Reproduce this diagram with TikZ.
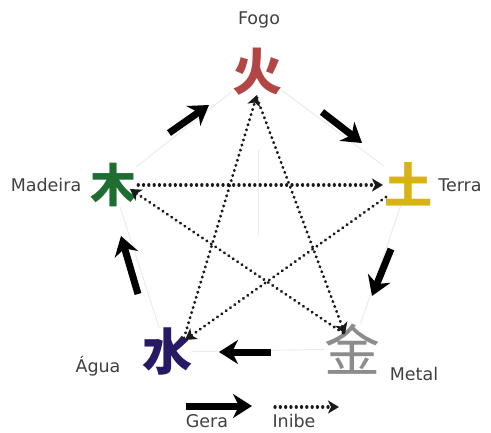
\documentclass[tikz,border=0pt]{standalone}
\usepackage{fontspec}
\setmainfont{DejaVu Sans}
\newfontfamily\cjkfont{Noto Sans CJK SC}
\usetikzlibrary{arrows.meta}
\tikzset{
  lbl/.style={font=\fontsize{17.5}{19}\selectfont, text=black!75, inner sep=0pt},
  elem/.style={font=\cjkfont\bfseries, inner sep=0pt},
  gen/.style={line width=7pt, -{Stealth[length=19pt,width=24pt,inset=6pt]}},
  inh/.style={line width=3.2pt, dash pattern=on 0.1pt off 5.2pt, line cap=round, black!90, -{Stealth[length=11pt,width=13pt,inset=3pt,line cap=butt]}},
  faint/.style={black!8, line width=1pt}
}
\begin{document}
\begin{tikzpicture}[x=1pt,y=-1pt]
\useasboundingbox (0,0) rectangle (491,432);
% element characters
\node[elem, text={rgb,255:red,178;green,70;blue,68}, font=\cjkfont\bfseries\fontsize{50}{50}\selectfont] (fogo) at (257,72) {火};
\node[elem, text={rgb,255:red,30;green,110;blue,50}, font=\cjkfont\bfseries\fontsize{46}{46}\selectfont] (madeira) at (113,185) {木};
\node[elem, text={rgb,255:red,215;green,180;blue,20}, font=\cjkfont\bfseries\fontsize{48}{48}\selectfont] (terra) at (408,184) {土};
\node[elem, text={rgb,255:red,40;green,25;blue,100}, font=\cjkfont\bfseries\fontsize{50}{50}\selectfont] (agua) at (167,352) {水};
\node[elem, text=black!45, font=\cjkfont\fontsize{56}{56}\selectfont] (metal) at (352,349) {金};
% faint background pentagon
\draw[faint] (fogo) -- (terra) -- (metal) -- (agua) -- (madeira) -- (fogo);
\draw[faint] (258,150) -- (258,235);
% labels
\node[lbl] (lfogo) at (259,20) {Fogo};
\node[lbl] (lmadeira) at (46,185) {Madeira};
\node[lbl] (lterra) at (460,185) {Terra};
\node[lbl] (lagua) at (98,366) {Água};
\node[lbl] (lmetal) at (414,374) {Metal};
% generating arrows
\coordinate (g1a) at (169,133); \coordinate (g1b) at (209,105);
\coordinate (g2a) at (322,112); \coordinate (g2b) at (362,143);
\coordinate (g3a) at (391,249); \coordinate (g3b) at (372,296);
\coordinate (g4a) at (271,352); \coordinate (g4b) at (219,352);
\coordinate (g5a) at (138,294); \coordinate (g5b) at (121,236);
\draw[gen] (g1a) -- (g1b);
\draw[gen] (g2a) -- (g2b);
\draw[gen] (g3a) -- (g3b);
\draw[gen] (g4a) -- (g4b);
\draw[gen] (g5a) -- (g5b);
% inhibiting arrows
\draw[inh] (fogo.south) ++(0,2) -- (345,334);
\draw[inh] (184,338) -- ([yshift=1pt]fogo.south);
\draw[inh] (madeira.east) ++(2,0) -- (383,185);
\draw[inh] (386,197) -- (185,340);
\draw[inh] (343,333) -- (130,189);
% legend
\coordinate (ga) at (186,406); \coordinate (gb) at (252,406);
\coordinate (ia) at (275,407); \coordinate (ib) at (339,407);
\draw[gen] (ga) -- (gb);
\draw[inh] (ia) -- (ib);
\node[lbl] (lgera) at (207,421) {Gera};
\node[lbl] (linibe) at (294,421) {Inibe};
\end{tikzpicture}
\end{document}
